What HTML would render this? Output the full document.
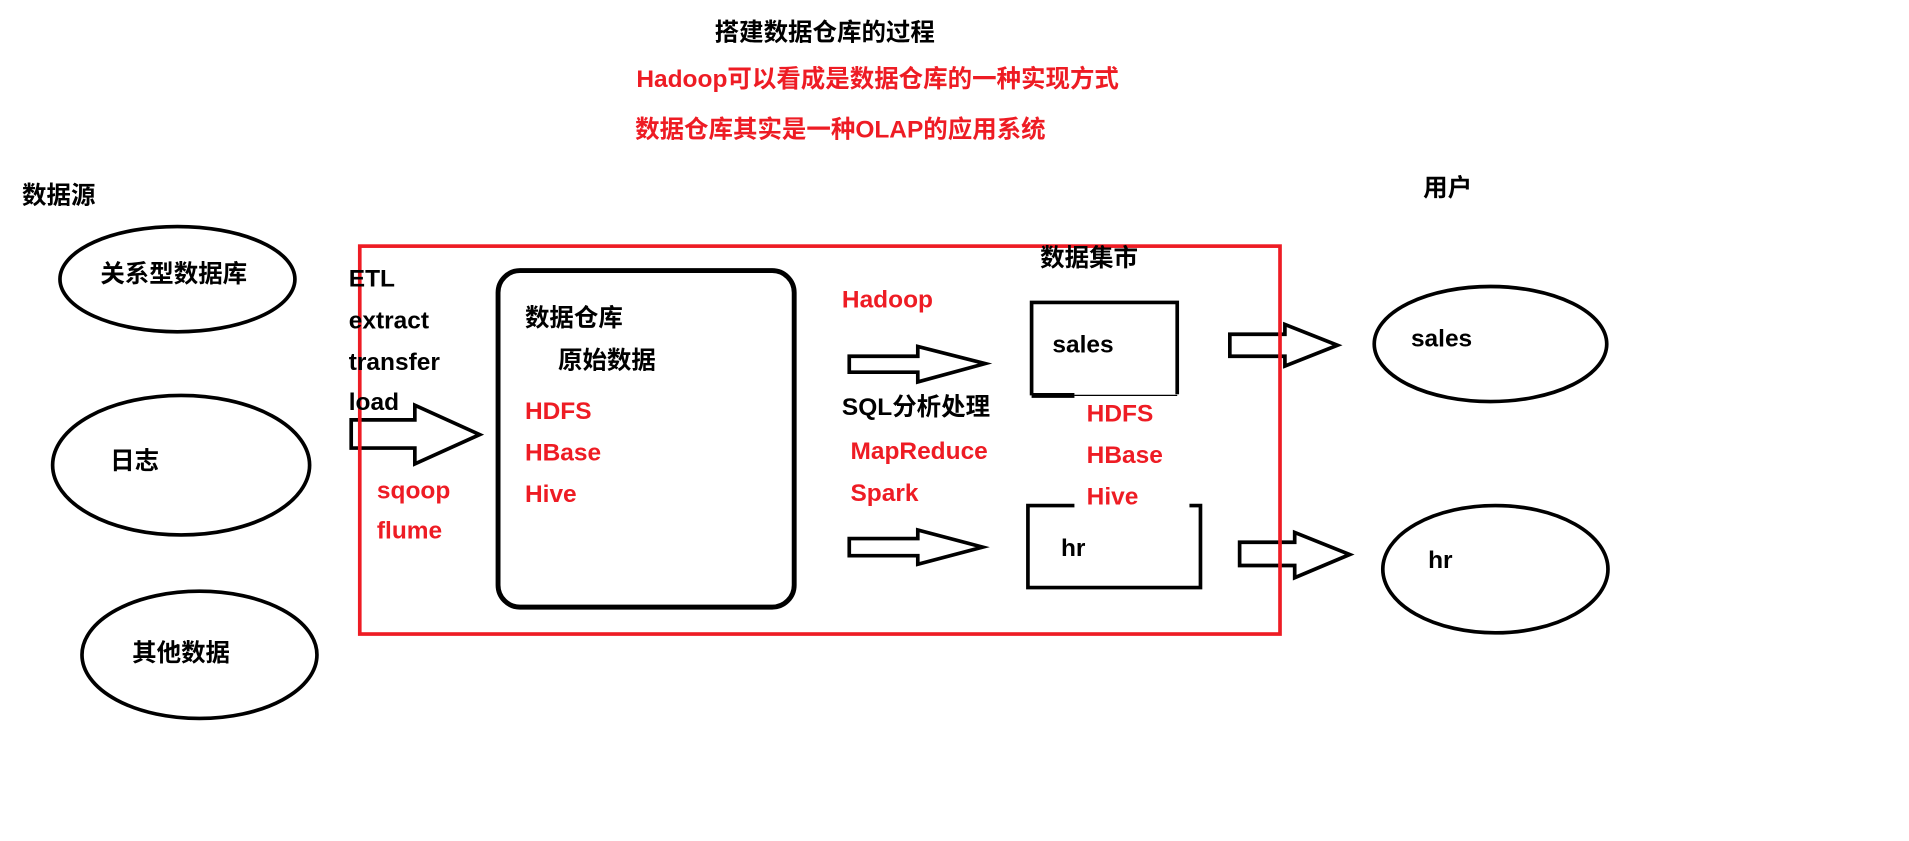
<!DOCTYPE html>
<html><head><meta charset="utf-8"><style>
html,body{margin:0;padding:0;background:#fff;width:1909px;height:841px;overflow:hidden}
svg{display:block}
text{font-family:"Liberation Sans","Noto Sans CJK SC",sans-serif;font-weight:bold;font-size:20px;dominant-baseline:central}
.r{fill:#ee1c24}
</style></head><body>
<svg width="1909" height="841" viewBox="0 0 1560 687" xmlns="http://www.w3.org/2000/svg">
<g fill="none" stroke="#000" stroke-width="3">
<ellipse cx="145" cy="228" rx="96" ry="43"/>
<ellipse cx="148" cy="380" rx="105" ry="57"/>
<ellipse cx="163" cy="535" rx="96" ry="52"/>
<ellipse cx="1218" cy="281" rx="95" ry="47"/>
<ellipse cx="1222" cy="465" rx="92" ry="52"/>
<rect x="407" y="221" width="242" height="275" rx="18" stroke-width="4"/>
<polygon points="287,343 339,343 339,331 392,355 339,379 339,366 287,366"/>
<polygon points="694,291 750,291 750,283 805,297 750,312 750,304 694,304"/>
<polygon points="694,440 750,440 750,433 803,447 750,461 750,454 694,454"/>
<polygon points="1005,273 1050,273 1050,265 1093,282 1050,299 1050,291 1005,291"/>
<polygon points="1013,443 1058,443 1058,435 1103,453 1058,472 1058,462 1013,462"/>
<polyline points="843,323 843,247 962,247 962,322"/>
<line x1="843" y1="323" x2="878" y2="323" stroke-width="4"/>
<line x1="878" y1="323" x2="962" y2="323" stroke-width="1"/>
<polyline points="878,413 840,413 840,480 981,480 981,413 972,413"/>
</g>
<rect x="294" y="201" width="752" height="317" fill="none" stroke="#ee1c24" stroke-width="3"/>
<text x="584" y="27">搭建数据仓库的过程</text>
<text x="520" y="65" class="r">Hadoop可以看成是数据仓库的一种实现方式</text>
<text x="519" y="106" class="r">数据仓库其实是一种OLAP的应用系统</text>
<text x="18" y="160">数据源</text>
<text x="1163" y="154">用户</text>
<text x="82" y="224">关系型数据库</text>
<text x="90" y="377">日志</text>
<text x="108" y="534">其他数据</text>
<text x="285" y="228">ETL</text>
<text x="285" y="262">extract</text>
<text x="285" y="296">transfer</text>
<text x="285" y="329">load</text>
<text x="308" y="401" class="r">sqoop</text>
<text x="308" y="434" class="r">flume</text>
<text x="429" y="260">数据仓库</text>
<text x="456" y="295">原始数据</text>
<text x="429" y="336" class="r">HDFS</text>
<text x="429" y="370" class="r">HBase</text>
<text x="429" y="404" class="r">Hive</text>
<text x="688" y="245" class="r">Hadoop</text>
<text x="688" y="333">SQL分析处理</text>
<text x="695" y="369" class="r">MapReduce</text>
<text x="695" y="403" class="r">Spark</text>
<text x="850" y="211">数据集市</text>
<text x="860" y="282">sales</text>
<text x="888" y="338" class="r">HDFS</text>
<text x="888" y="372" class="r">HBase</text>
<text x="888" y="406" class="r">Hive</text>
<text x="867" y="448">hr</text>
<text x="1153" y="277">sales</text>
<text x="1167" y="458">hr</text>
</svg>
</body></html>
